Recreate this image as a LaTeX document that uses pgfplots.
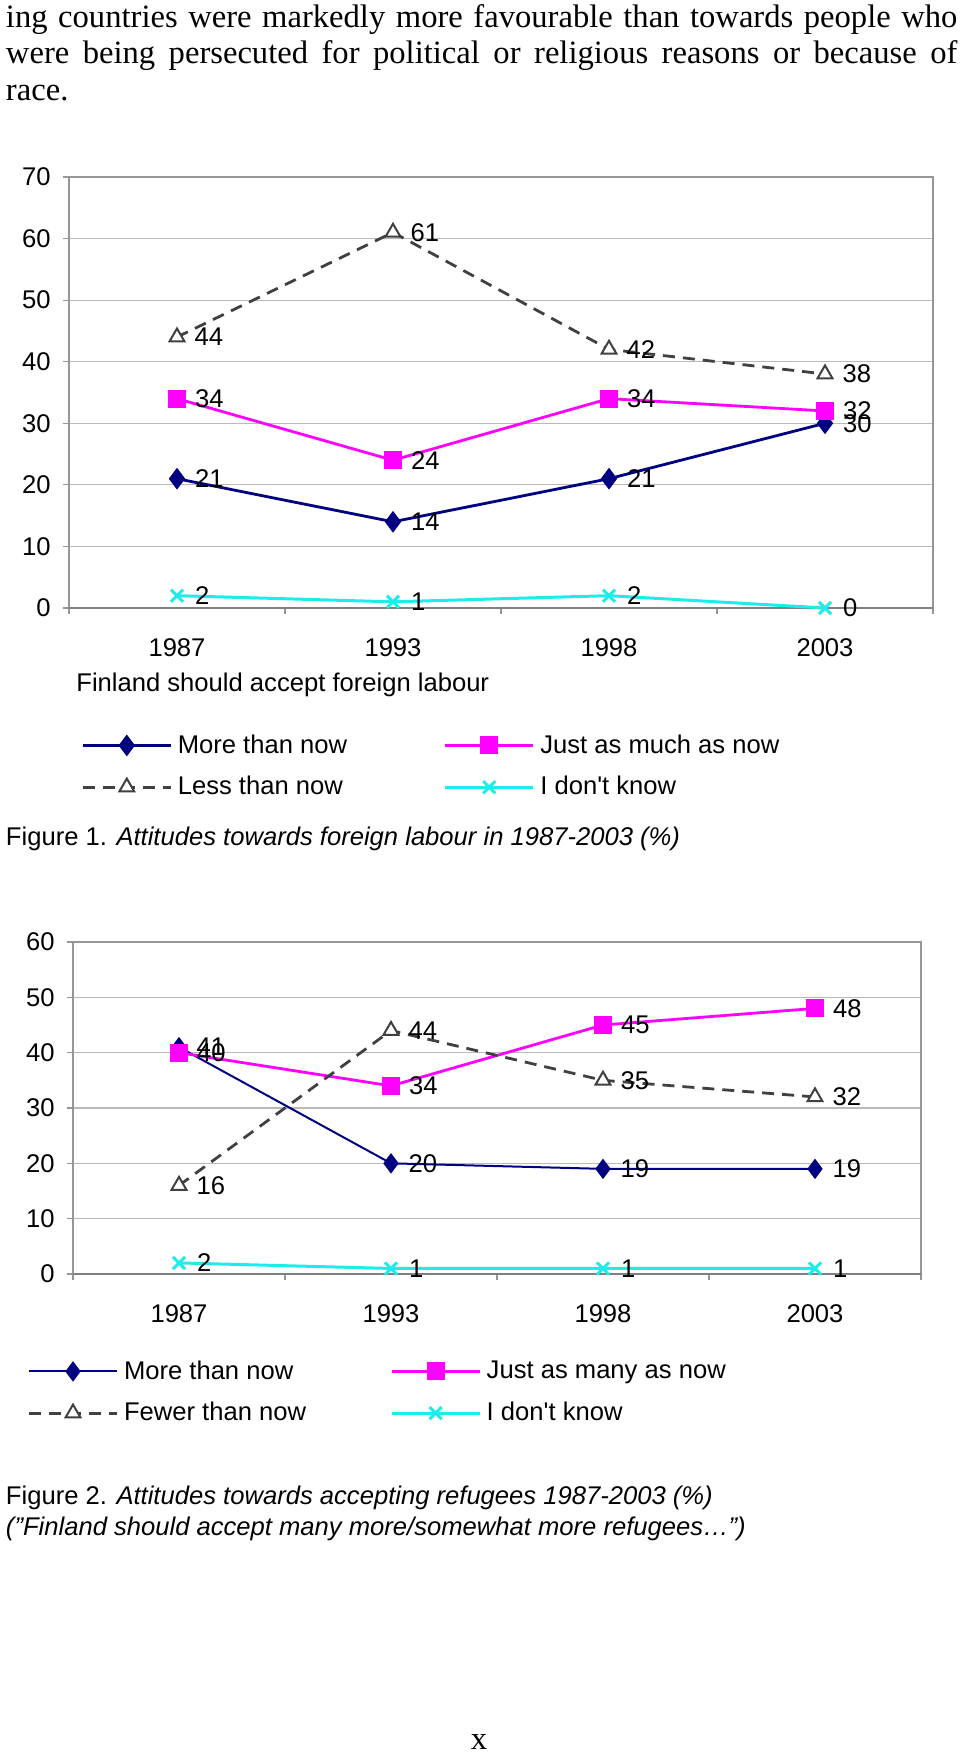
\documentclass[border=0pt]{standalone}
\usepackage{fontspec}
\setmainfont{Liberation Serif}
\newfontfamily\arial{Liberation Sans}
\usepackage{pgfplots}
\pgfplotsset{compat=1.18}

\definecolor{navyc}{RGB}{0,0,128}
\definecolor{magc}{RGB}{255,0,255}
\definecolor{dgray}{RGB}{64,64,64}
\definecolor{cyanc}{RGB}{30,235,235}
\definecolor{framec}{RGB}{150,150,150}
\definecolor{gridc}{RGB}{185,185,185}

\newcommand\sfs{\arial\fontsize{12.8bp}{15bp}\selectfont}

\pgfplotsset{
  attchart/.style={
    scale only axis, anchor=south west, clip=false,
    xmin=0.5, xmax=4.5, ymin=0,
    xtick={1,2,3,4},
    xticklabels={1987,1993,1998,2003},
    minor xtick={0.5,1.5,2.5,3.5,4.5},
    xtick pos=bottom, ytick pos=left,
    ytick distance=10,
    ymajorgrids,
    grid style={gridc, line width=0.6bp},
    axis line style={framec, line width=1bp},
    extra y ticks={0}, extra y tick labels={},
    extra y tick style={grid=major, major grid style={gray, line width=1.2bp}},
    tick align=outside,
    major tick length=3bp, minor tick length=3bp,
    tick style={framec, line width=0.6bp},
    major x tick style={draw=none},
    ticklabel style={font=\sfs},
    /pgf/number format/assume math mode=true,
    xticklabel style={yshift=-8.7bp},
    yticklabel style={xshift=-2.7bp},
    nodes near coords,
    every node near coord/.append style={font=\sfs, anchor=west, xshift=5bp, text=black},
    legend columns=2,
    legend cell align=left,
    legend style={draw=none, fill=none, font=\sfs, inner sep=0pt,
      nodes={inner sep=2.8bp}, row sep=4.5bp},
    legend image code/.code={\draw[mark repeat=2, mark phase=2]
      plot coordinates {(0bp,0bp) (22bp,0bp) (44bp,0bp)};},
  },
  s1/.style={navyc, line width=1.4bp, mark=diamond*, mark size=4.3bp, mark options={fill=navyc}},
  s2/.style={magc, line width=1.4bp, mark=square*, mark size=3.8bp},
  s3/.style={dgray, line width=1.4bp, dash pattern=on 6bp off 4bp, mark=triangle*,
    mark size=4.3bp, mark options={solid, fill=white, line width=1bp}},
  s4/.style={cyanc, line width=1.5bp, mark=x, mark size=4.3bp},
}

\begin{document}
\begin{tikzpicture}
\useasboundingbox (0,0) rectangle (480bp,878bp);

% running text above the charts
\begin{scope}[every node/.style={inner sep=0pt, anchor=mid west, font=\fontsize{16.3bp}{18bp}\selectfont}]
\node at (2.8bp,866.7bp) {\makebox[475.7bp][s]{ing countries were markedly more favourable than towards people who}};
\node at (2.8bp,848.7bp) {\makebox[475.7bp][s]{were being persecuted for political or religious reasons or because of}};
\node at (2.8bp,830.2bp) {race.};
\node[anchor=mid] at (239.5bp,5.5bp) {x};
\end{scope}

% Figure 1
\begin{axis}[attchart, at={(34.5bp,574bp)}, width=432bp, height=215.5bp, ymax=70,
  legend style={at={(0.0139,-0.28)}, anchor=north west,
    /tikz/column 2/.style={column sep=45.5bp}}]
\addplot[s1] coordinates {(1,21) (2,14) (3,21) (4,30)};
\addplot[s2] coordinates {(1,34) (2,24) (3,34) (4,32)};
\addplot[s3] coordinates {(1,44) (2,61) (3,42) (4,38)};
\addplot[s4] coordinates {(1,2) (2,1) (3,2) (4,0)};
\legend{More than now, Just as much as now, Less than now, I don't know}
\end{axis}

\begin{scope}[every node/.style={inner sep=0pt, anchor=mid west, font=\sfs}]
\node at (38bp,534.3bp) {Finland should accept foreign labour};
\node at (2.8bp,457.3bp) {Figure 1. \textit{Attitudes towards foreign labour in 1987-2003 (\%)}};
\node at (2.8bp,128bp) {Figure 2. \textit{Attitudes towards accepting refugees 1987-2003 (\%)}};
\node at (2.8bp,112.5bp) {\textit{(”Finland should accept many more/somewhat more refugees…”)}};
\end{scope}

% Figure 2
\begin{axis}[attchart, at={(36.5bp,241bp)}, width=424bp, height=166bp, ymax=60,
  legend style={at={(-0.054,-0.243)}, anchor=north west,
    /tikz/column 2/.style={column sep=39.2bp}}]
\addplot[s1, line width=1bp] coordinates {(1,41) (2,20) (3,19) (4,19)};
\addplot[s2] coordinates {(1,40) (2,34) (3,45) (4,48)};
\addplot[s3] coordinates {(1,16) (2,44) (3,35) (4,32)};
\addplot[s4] coordinates {(1,2) (2,1) (3,1) (4,1)};
\legend{More than now, Just as many as now, Fewer than now, I don't know}
\end{axis}
\end{tikzpicture}
\end{document}
